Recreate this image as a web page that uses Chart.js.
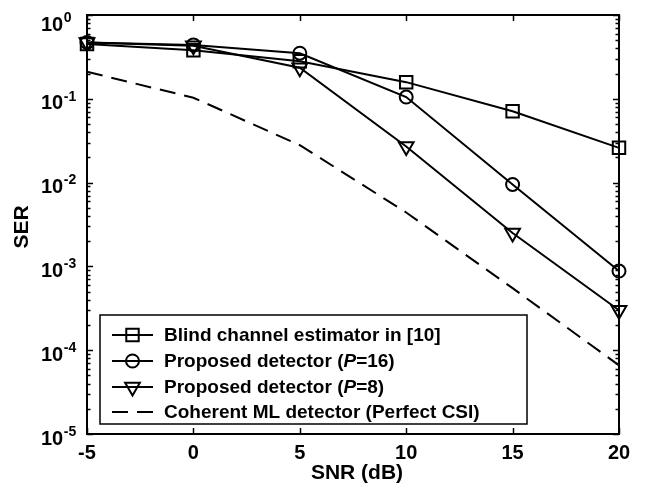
<!DOCTYPE html>
<html><head><meta charset="utf-8">
<script src="https://cdn.jsdelivr.net/npm/chart.js@4.4.0/dist/chart.umd.min.js"></script>
<style>html,body{margin:0;padding:0;background:#fff}#wrap{width:647px;height:491px}</style>
</head><body><div id="wrap"><canvas id="c" width="647" height="491"></canvas></div>
<script>
const snrDb=[-5,0,5,10,15,20];
const blindSER=[0.45,0.38,0.28,0.158,0.071,0.026];
const p16SER=[0.47,0.44,0.35,0.105,0.0095,0.00088];
const p8SER=[0.47,0.43,0.235,0.027,0.0025,0.0003];
const coherentSER=[0.21,0.103,0.028,0.0044,0.00055,0.000066];
const xTickValues=[-5,0,5,10,15,20];
const yTickExponents=[0,-1,-2,-3,-4,-5];
const seriesLabels=['Blind channel estimator in [10]','Proposed detector (P=16)','Proposed detector (P=8)','Coherent ML detector (Perfect CSI)'];
const xTitle='SNR (dB)';
const yTitle='SER';

const FONT='"Liberation Sans", Arial, Helvetica, sans-serif';

function pts(arr){return snrDb.map((v,i)=>({x:v,y:arr[i]}));}

const markerDefs=[
  {style:'rect',radius:8.8,rotation:0},
  {style:'circle',radius:6.5,rotation:0},
  {style:'triangle',radius:8.5,rotation:180},
  {style:false,radius:0,rotation:0}
];

function ds(label,arr,m,dash){
  return {label:label,data:pts(arr),borderColor:'#000',borderWidth:2,
    backgroundColor:'rgba(0,0,0,0)',pointStyle:m.style,pointRadius:m.radius,
    pointRotation:m.rotation,pointBorderWidth:2,pointBorderColor:'#000',
    pointBackgroundColor:'rgba(0,0,0,0)',borderDash:dash||[],tension:0,clip:false,
    pointHoverRadius:m.radius};
}

function line(ctx,x1,y1,x2,y2){ctx.beginPath();ctx.moveTo(x1,y1);ctx.lineTo(x2,y2);ctx.stroke();}

const axesPlugin={
  id:'matlabAxes',
  afterDatasetsDraw(chart){
    const ctx=chart.ctx,a=chart.chartArea,x=chart.scales.x,y=chart.scales.y;
    ctx.save();
    ctx.strokeStyle='#000';
    // ticks
    ctx.lineWidth=1.5;
    xTickValues.forEach(v=>{
      const px=Math.round(x.getPixelForValue(v))+0.5;
      line(ctx,px,a.bottom,px,a.bottom-6);
      line(ctx,px,a.top,px,a.top+6);
    });
    for(let e=-5;e<=0;e++){
      const py=Math.round(y.getPixelForValue(Math.pow(10,e)))+0.5;
      line(ctx,a.left,py,a.left+6,py);
      line(ctx,a.right,py,a.right-6,py);
      if(e<0){
        for(let m=2;m<=9;m++){
          const pm=Math.round(y.getPixelForValue(m*Math.pow(10,e)))+0.5;
          line(ctx,a.left,pm,a.left+3.5,pm);
          line(ctx,a.right,pm,a.right-3.5,pm);
        }
      }
    }
    // box
    ctx.lineWidth=2;
    ctx.strokeRect(a.left,a.top,a.right-a.left,a.bottom-a.top);
    // x tick labels
    ctx.fillStyle='#000';
    ctx.font='bold 20px '+FONT;
    ctx.textAlign='center';ctx.textBaseline='middle';
    xTickValues.forEach(v=>{
      ctx.fillText(String(v),x.getPixelForValue(v),a.bottom+19);
    });
    // y tick labels
    yTickExponents.forEach(e=>{
      let py=y.getPixelForValue(Math.pow(10,e));
      if(e===0) py+=5;
      ctx.font='bold 20px '+FONT;
      ctx.textAlign='left';ctx.textBaseline='middle';
      ctx.fillText('10',41,py+5);
      const w=ctx.measureText('10').width;
      ctx.font='bold 14px '+FONT;
      ctx.fillText(String(e),41+w+0.5,py-2);
    });
    // axis titles
    ctx.font='bold 21px '+FONT;
    ctx.textAlign='center';ctx.textBaseline='middle';
    ctx.fillText(xTitle,(a.left+a.right)/2+4,473);
    ctx.save();
    ctx.translate(22,227);ctx.rotate(-Math.PI/2);
    ctx.fillText(yTitle,0,0);
    ctx.restore();
    // legend
    const lx=100,ly=315,lw=427,lh=109;
    ctx.fillStyle='#fff';ctx.fillRect(lx,ly,lw,lh);
    ctx.lineWidth=1.5;ctx.strokeStyle='#000';
    ctx.strokeRect(lx,ly,lw,lh);
    const rows=[335,361,387,412];
    chart.data.datasets.forEach((d,i)=>{
      const ry=rows[i];
      ctx.lineWidth=2;ctx.strokeStyle='#000';
      ctx.setLineDash(d.borderDash||[]);
      line(ctx,112,ry,153,ry);
      ctx.setLineDash([]);
      if(d.pointStyle){
        ctx.fillStyle='rgba(0,0,0,0)';
        Chart.helpers.drawPoint(ctx,{pointStyle:d.pointStyle,radius:d.pointRadius,rotation:d.pointRotation,borderWidth:2},132.5,ry);
      }
      // text with italic P
      ctx.fillStyle='#000';ctx.textAlign='left';ctx.textBaseline='middle';
      const label=d.label;
      const idx=label.indexOf('(P=');
      let tx=164;
      if(idx>=0){
        const pre=label.slice(0,idx+1),post=label.slice(idx+2);
        ctx.font='bold 19px '+FONT;ctx.fillText(pre,tx,ry+1);tx+=ctx.measureText(pre).width;
        ctx.font='italic bold 19px '+FONT;ctx.fillText('P',tx,ry+1);tx+=ctx.measureText('P').width;
        ctx.font='bold 19px '+FONT;ctx.fillText(post,tx,ry+1);
      }else{
        ctx.font='bold 19px '+FONT;ctx.fillText(label,tx,ry+1);
      }
    });
    ctx.restore();
  }
};

new Chart(document.getElementById('c'),{
  type:'line',
  data:{datasets:[
    ds(seriesLabels[0],blindSER,markerDefs[0]),
    ds(seriesLabels[1],p16SER,markerDefs[1]),
    ds(seriesLabels[2],p8SER,markerDefs[2]),
    ds(seriesLabels[3],coherentSER,markerDefs[3],[16,9])
  ]},
  options:{
    responsive:false,animation:false,devicePixelRatio:1,
    layout:{padding:{left:87,top:15,right:28,bottom:57}},
    plugins:{legend:{display:false},tooltip:{enabled:false}},
    events:[],
    scales:{
      x:{type:'linear',min:-5,max:20,display:false},
      y:{type:'logarithmic',min:1e-5,max:1,display:false}
    }
  },
  plugins:[axesPlugin]
});
</script>
</body></html>
